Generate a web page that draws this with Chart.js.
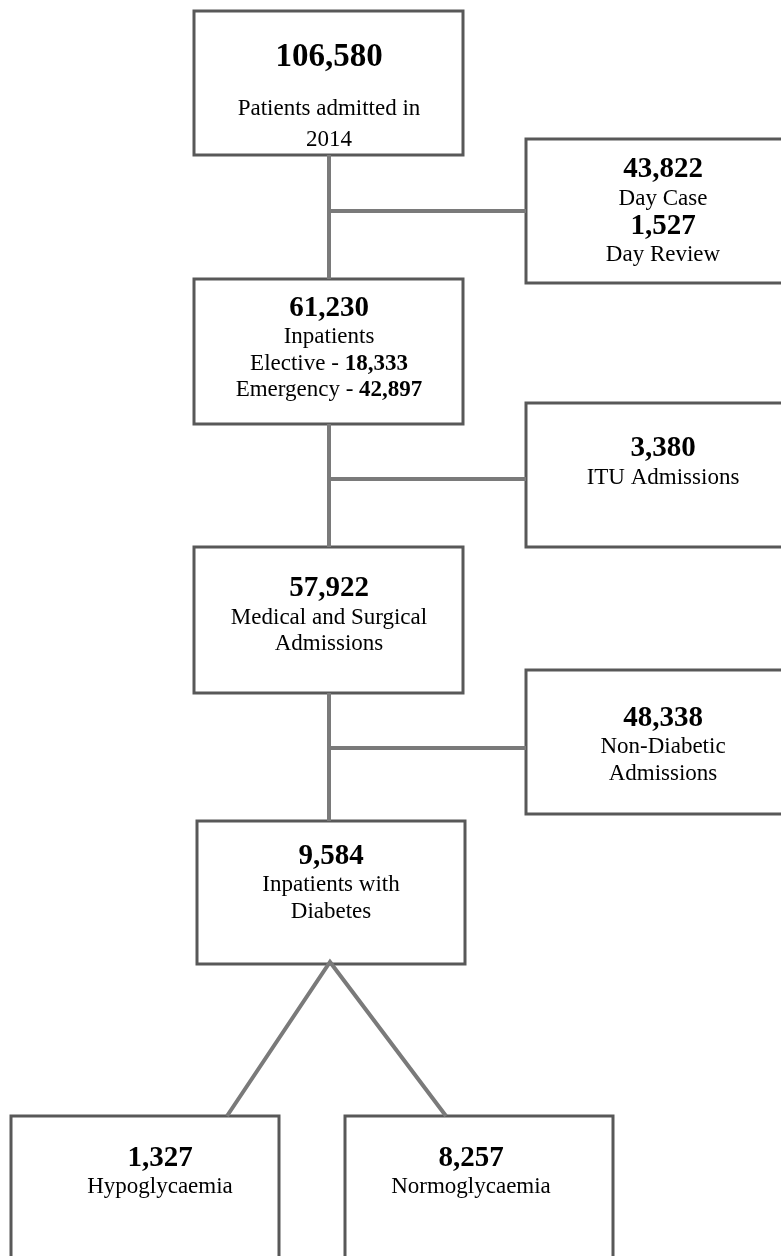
<!DOCTYPE html>
<html>
<head>
<meta charset="utf-8">
<script src="https://cdn.jsdelivr.net/npm/chart.js@4/dist/chart.umd.min.js"></script>
<style>
  html, body { margin: 0; padding: 0; background: #fff; }
  #wrap { width: 781px; height: 1256px; position: relative; }
</style>
</head>
<body>
<div id="wrap"><canvas id="flowChart"></canvas></div>
<script>
// counts shown in each box (top to bottom, left to right)
const nodeCounts = [106580, 43822, 61230, 3380, 57922, 48338, 9584, 1327, 8257];
const nodeLabels = [
  ['Patients admitted in', '2014'],
  ['Day Case'],
  ['Inpatients'],
  ['ITU Admissions'],
  ['Medical and Surgical', 'Admissions'],
  ['Non-Diabetic', 'Admissions'],
  ['Inpatients with', 'Diabetes'],
  ['Hypoglycaemia'],
  ['Normoglycaemia']
];
const dayReviewCount = 1527;
const dayReviewLabel = 'Day Review';
const admissionTypes = ['Elective', 'Emergency'];
const admissionCounts = [18333, 42897];

// box placement on a 781 x 1256 page grid  [x0, y0, x1, y1]
const boxes = [
  [194, 11, 463, 155],
  [526, 139, 800, 283],
  [194, 279, 463, 424],
  [526, 403, 800, 547],
  [194, 547, 463, 693],
  [526, 670, 800, 814],
  [197, 821, 465, 964],
  [11, 1116, 279, 1270],
  [345, 1116, 613, 1270]
];
// centre y of each text line in a box
const lineYs = [
  [55, 107, 138],
  [168, 197, 225, 253],
  [307, 335, 362, 388],
  [447, 476],
  [587, 616, 642],
  [717, 745, 772],
  [855, 883, 910],
  [1157, 1185],
  [1157, 1185]
];
const textX = [329, 663, 329, 663, 329, 663, 331, 160, 471];

const fmt = n => n.toLocaleString('en-US');

// text content for each box: list of lines, each a list of [text, style]
// style: 'num' = big bold count, 'b' = bold inline, 'n' = normal
function boxText(i) {
  const lines = [[[fmt(nodeCounts[i]), 'num']]];
  nodeLabels[i].forEach(l => lines.push([[l, 'n']]));
  if (i === 1) {
    lines.push([[fmt(dayReviewCount), 'num']]);
    lines.push([[dayReviewLabel, 'n']]);
  }
  if (i === 2) {
    admissionTypes.forEach((t, k) => lines.push([[t + ' - ', 'n'], [fmt(admissionCounts[k]), 'b']]));
  }
  return lines;
}

const datasets = [];
boxes.forEach(b => {
  datasets.push({
    data: [{x: b[0], y: b[1]}, {x: b[2], y: b[1]}, {x: b[2], y: b[3]}, {x: b[0], y: b[3]}, {x: b[0], y: b[1]}],
    borderColor: '#585858', borderWidth: 3, borderJoinStyle: 'miter', borderCapStyle: 'square'
  });
});

// connectors between boxes
const trunkX = 329;
const links = [
  [[trunkX, 155], [trunkX, 279]], [[trunkX, 211], [526, 211]],
  [[trunkX, 424], [trunkX, 547]], [[trunkX, 479], [526, 479]],
  [[trunkX, 693], [trunkX, 821]], [[trunkX, 748], [526, 748]],
  [[227, 1116], [330, 962], [446, 1116]]
];
links.forEach(l => {
  datasets.push({
    data: l.map(p => ({x: p[0], y: p[1]})),
    borderColor: '#7a7a7a', borderWidth: 4, borderJoinStyle: 'miter'
  });
});
// draw connectors first so box outlines sit on top
datasets.reverse();

const FACE = '"Liberation Serif"';
const textPlugin = {
  id: 'boxText',
  afterDatasetsDraw(chart) {
    const ctx = chart.ctx;
    const xs = chart.scales.x, ys = chart.scales.y;
    ctx.save();
    ctx.fillStyle = '#000';
    ctx.textBaseline = 'middle';
    ctx.textAlign = 'left';
    boxes.forEach((b, i) => {
      boxText(i).forEach((parts, k) => {
        const fonts = parts.map(p => {
          if (p[1] === 'num') return 'bold ' + (i === 0 ? 33 : 29) + 'px ' + FACE;
          if (p[1] === 'b') return 'bold 23px ' + FACE;
          return '23px ' + FACE;
        });
        let total = 0;
        const widths = parts.map((p, j) => { ctx.font = fonts[j]; const w = ctx.measureText(p[0]).width; total += w; return w; });
        let x = xs.getPixelForValue(textX[i]) - total / 2;
        const y = ys.getPixelForValue(lineYs[i][k]) + 2;
        parts.forEach((p, j) => {
          ctx.font = fonts[j];
          ctx.fillText(p[0], x, y);
          x += widths[j];
        });
      });
    });
    ctx.restore();
  }
};

new Chart(document.getElementById('flowChart'), {
  type: 'scatter',
  data: { datasets: datasets },
  options: {
    responsive: true,
    maintainAspectRatio: false,
    animation: false,
    layout: { padding: 0 },
    elements: { point: { radius: 0, hoverRadius: 0 }, line: { tension: 0 } },
    datasets: { scatter: { showLine: true } },
    plugins: { legend: { display: false }, tooltip: { enabled: false } },
    scales: {
      x: { type: 'linear', min: 0, max: 781, display: false },
      y: { type: 'linear', min: 0, max: 1256, reverse: true, display: false }
    }
  },
  plugins: [textPlugin]
});
</script>
</body>
</html>
